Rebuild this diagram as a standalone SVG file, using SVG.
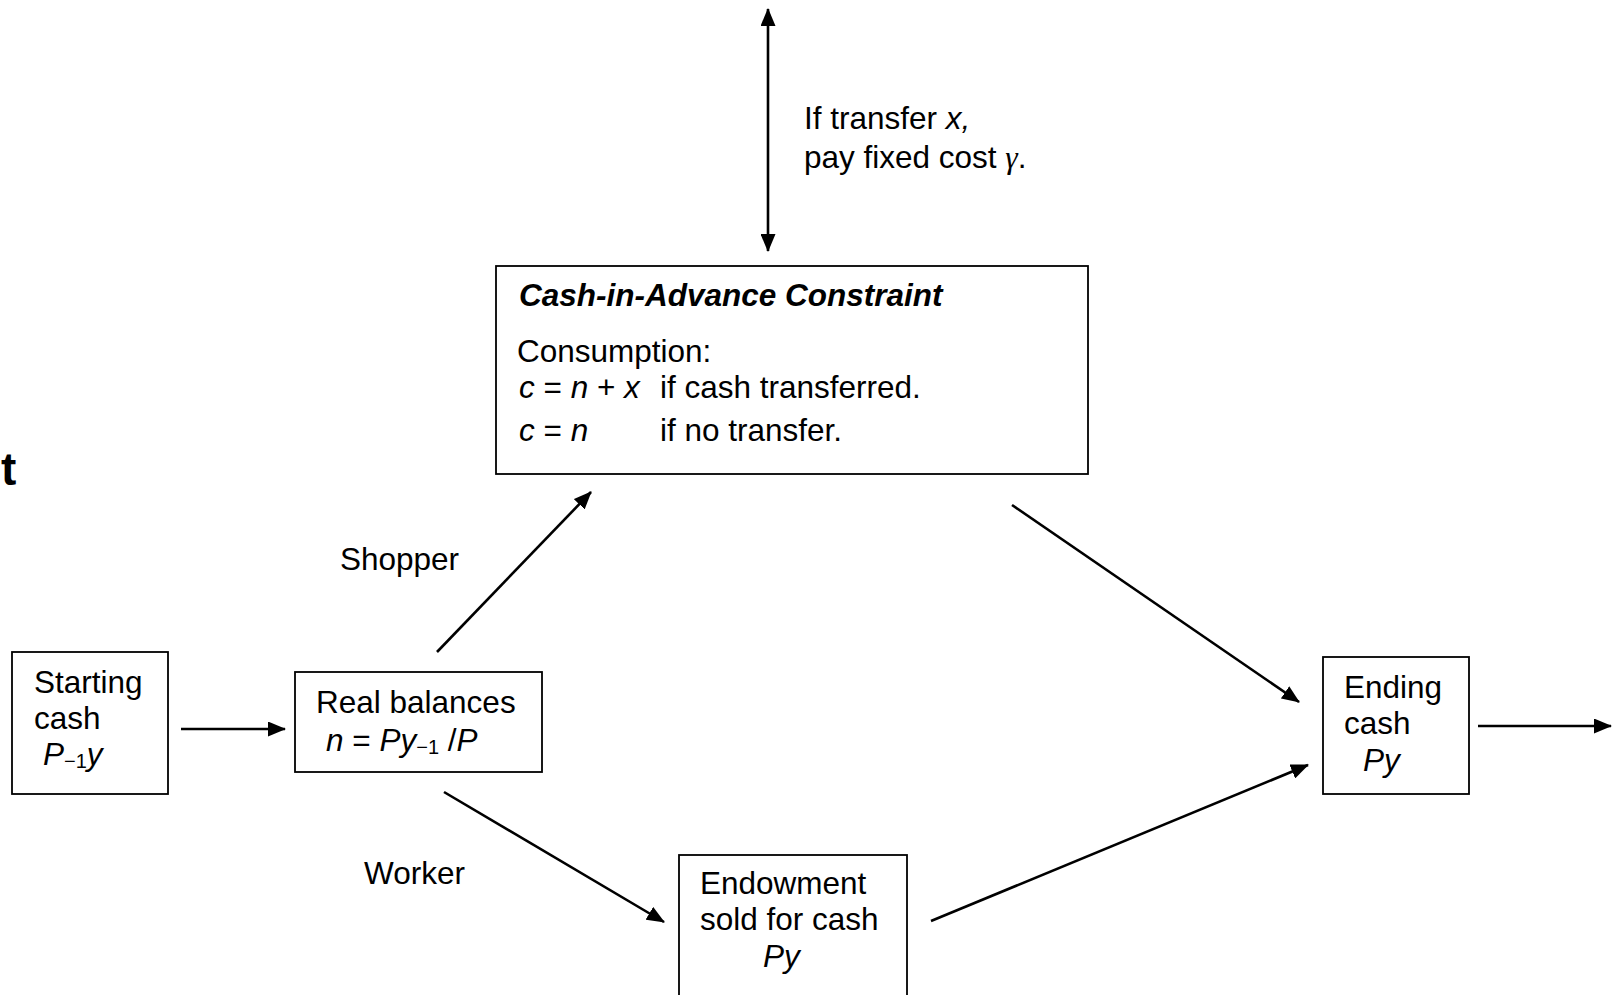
<svg xmlns="http://www.w3.org/2000/svg" width="1617" height="995" viewBox="0 0 1617 995">
<style>
text{font-family:"Liberation Sans",Arial,sans-serif;font-size:31.5px;fill:#000}
.i{font-style:italic}
.b{font-weight:bold}
.sub{font-size:20px;font-style:normal}
.box{fill:#fff;stroke:#000;stroke-width:1.8}
.edge{stroke:#000;stroke-width:2.6;fill:none}
</style>
<defs>
<marker id="ah" viewBox="0 0 18 15" refX="17" refY="7.5" markerWidth="18" markerHeight="15" markerUnits="userSpaceOnUse" orient="auto-start-reverse">
<path d="M0,0 L18,7.5 L0,15 z" fill="#000"/>
</marker>
</defs>
<rect width="1617" height="995" fill="#fff"/>
<text x="1" y="485" class="b" style="font-size:46px">t</text>
<g id="connectors">
<line class="edge" x1="768" y1="9" x2="768" y2="251" marker-start="url(#ah)" marker-end="url(#ah)"/>
<line class="edge" x1="181" y1="729" x2="285" y2="729" marker-end="url(#ah)"/>
<line class="edge" x1="437" y1="652" x2="591" y2="492" marker-end="url(#ah)"/>
<line class="edge" x1="444" y1="792" x2="664" y2="922" marker-end="url(#ah)"/>
<line class="edge" x1="1012" y1="505" x2="1299" y2="702" marker-end="url(#ah)"/>
<line class="edge" x1="931" y1="921" x2="1308" y2="765" marker-end="url(#ah)"/>
<line class="edge" x1="1478" y1="726" x2="1611" y2="726" marker-end="url(#ah)"/>
<text x="804" y="129">If transfer <tspan class="i">x,</tspan></text>
<text x="804" y="168">pay fixed cost <tspan class="i" style="font-family:'Liberation Serif',serif">γ</tspan>.</text>
<text x="340" y="570">Shopper</text>
<text x="364" y="884">Worker</text>
</g>
<g id="cia">
<rect class="box" x="496" y="266" width="592" height="208"/>
<text x="519" y="306" class="b i">Cash-in-Advance Constraint</text>
<text x="517" y="362">Consumption:</text>
<text x="519" y="398"><tspan class="i">c</tspan> = <tspan class="i">n</tspan> + <tspan class="i">x</tspan></text>
<text x="660" y="398">if cash transferred.</text>
<text x="519" y="441"><tspan class="i">c</tspan> = <tspan class="i">n</tspan></text>
<text x="660" y="441">if no transfer.</text>
</g>
<g id="starting">
<rect class="box" x="12" y="652" width="156" height="142"/>
<text x="34" y="693">Starting</text>
<text x="34" y="729">cash</text>
<text x="43" y="765"><tspan class="i">P</tspan><tspan class="sub" dy="3">−1</tspan><tspan class="i" dy="-3">y</tspan></text>
</g>
<g id="real">
<rect class="box" x="295" y="672" width="247" height="100"/>
<text x="316" y="713">Real balances</text>
<text x="326" y="751"><tspan class="i">n</tspan> = <tspan class="i">Py</tspan><tspan class="sub" dy="3">−1</tspan><tspan dy="-3"> /</tspan><tspan class="i">P</tspan></text>
</g>
<g id="endowment">
<rect class="box" x="679" y="855" width="228" height="160"/>
<text x="700" y="894">Endowment</text>
<text x="700" y="930">sold for cash</text>
<text x="763" y="967" class="i">Py</text>
</g>
<g id="ending">
<rect class="box" x="1323" y="657" width="146" height="137"/>
<text x="1344" y="698">Ending</text>
<text x="1344" y="734">cash</text>
<text x="1363" y="771" class="i">Py</text>
</g>
</svg>
